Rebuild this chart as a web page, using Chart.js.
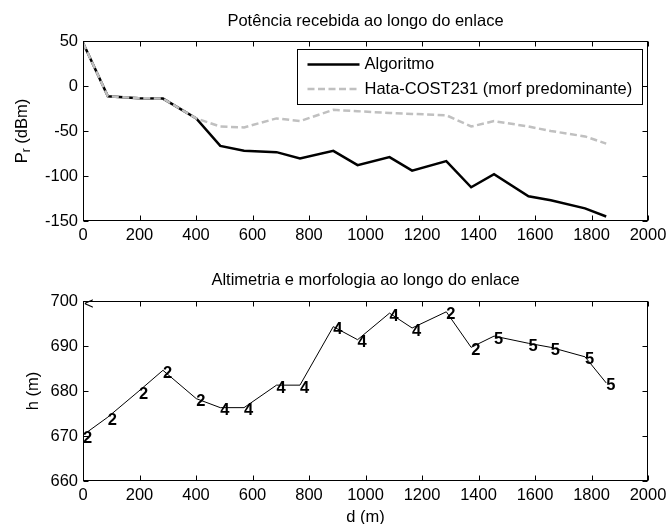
<!DOCTYPE html>
<html>
<head>
<meta charset="utf-8">
<script src="https://cdn.jsdelivr.net/npm/chart.js@4.4.0/dist/chart.umd.min.js"></script>
<style>
  body { margin: 0; background: #fff; }
  canvas { position: absolute; left: 0; }
  #potencia { top: 0; }
  #altimetria { top: 260px; }
</style>
</head>
<body>
<canvas id="potencia" width="667" height="260"></canvas>
<canvas id="altimetria" width="667" height="264"></canvas>
<script>
// distancia ao longo do enlace (m)
const distance = [0, 88, 198, 283, 401, 486, 570, 685, 768, 886, 972, 1085, 1165, 1286, 1374, 1455, 1577, 1656, 1777, 1852];
// potencia recebida (dBm)
const algoritmo = [48, -11.5, -13.5, -14, -36, -66.5, -72, -73.5, -80.5, -72, -88, -79, -94, -83.5, -112.5, -98, -122.5, -127, -136, -145];
const hataCost231 = [48, -11.5, -13.5, -14, -36, -45, -46, -36, -39, -26.5, -28, -30, -31, -32.5, -45, -39, -45, -50, -56, -64];
// altimetria (m) e morfologia de cada ponto
const altitude = [670.2, 674.2, 680, 684.6, 678.3, 676.3, 676.3, 681.3, 681.3, 694.3, 691.4, 697.3, 694, 697.6, 689.7, 692.2, 690.6, 689.7, 687.6, 681.8];
const morfologia = ['2', '2', '2', '2', '2', '4', '4', '4', '4', '4', '4', '4', '4', '2', '2', '5', '5', '5', '5', '5'];
const cornerMark = { d: 0, h: 700, text: '<' };

const distanceTicks = [0, 200, 400, 600, 800, 1000, 1200, 1400, 1600, 1800, 2000];
const powerTicks = [-150, -100, -50, 0, 50];
const heightTicks = [660, 670, 680, 690, 700];

const FONT = '"Liberation Sans", Arial, Helvetica, sans-serif';
const SIZE = 16.5;

Chart.defaults.font.family = FONT;
Chart.defaults.font.size = SIZE;
Chart.defaults.color = '#000';

// caixa do eixo com marcas de escala para dentro (estilo matlab)
const framePlugin = {
  id: 'frame',
  afterDraw(chart) {
    const { ctx, chartArea: a, scales } = chart;
    const L = Math.round(a.left) + 0.5, R = Math.round(a.right) - 0.5;
    const T = Math.round(a.top) + 0.5, B = Math.round(a.bottom) - 0.5;
    ctx.save();
    ctx.strokeStyle = '#000';
    ctx.lineWidth = 1;
    ctx.strokeRect(L, T, R - L, B - T);
    ctx.beginPath();
    scales.x.ticks.forEach(t => {
      const px = Math.round(scales.x.getPixelForValue(t.value)) + 0.5;
      ctx.moveTo(px, B); ctx.lineTo(px, B - 5);
      ctx.moveTo(px, T); ctx.lineTo(px, T + 5);
    });
    scales.y.ticks.forEach(t => {
      const py = Math.round(scales.y.getPixelForValue(t.value)) + 0.5;
      ctx.moveTo(L, py); ctx.lineTo(L + 5, py);
      ctx.moveTo(R, py); ctx.lineTo(R - 5, py);
    });
    ctx.stroke();
    ctx.restore();
  }
};

const boxLegend = {
  id: 'boxLegend',
  afterDraw(chart) {
    const { ctx, chartArea: a } = chart;
    const ds = chart.data.datasets;
    ctx.save();
    ctx.font = SIZE + 'px ' + FONT;
    const textW = Math.max(...ds.map(d => ctx.measureText(d.label).width));
    const sample = 52, padL = 10, gap = 5, padR = 10, rowH = 24.5;
    const w = Math.round(padL + sample + gap + textW + padR);
    const h = 55;
    const right = Math.round(a.right - 6) + 0.5, top = Math.round(a.top + 8) + 0.5;
    const left = right - w;
    ctx.fillStyle = '#fff';
    ctx.fillRect(left, top, w, h);
    ctx.strokeStyle = '#000';
    ctx.lineWidth = 1;
    ctx.strokeRect(left, top, w, h);
    ds.forEach((d, i) => {
      const y = top + 15 + i * rowH;
      ctx.beginPath();
      ctx.strokeStyle = d.borderColor;
      ctx.lineWidth = d.borderWidth;
      ctx.setLineDash(d.borderDash || []);
      ctx.moveTo(left + padL, y);
      ctx.lineTo(left + padL + sample, y);
      ctx.stroke();
      ctx.setLineDash([]);
      ctx.fillStyle = '#000';
      ctx.textBaseline = 'middle';
      ctx.textAlign = 'left';
      ctx.fillText(d.label, left + padL + sample + gap, y);
    });
    ctx.restore();
  }
};

// P com indice r
const powerLabel = {
  id: 'powerLabel',
  afterDraw(chart) {
    const { ctx, chartArea: a } = chart;
    const main = SIZE + 'px ' + FONT, sub = '12px ' + FONT;
    ctx.save();
    ctx.translate(27, (a.top + a.bottom) / 2);
    ctx.rotate(-Math.PI / 2);
    ctx.fillStyle = '#000';
    ctx.textBaseline = 'alphabetic';
    ctx.textAlign = 'left';
    ctx.font = main;
    const wP = ctx.measureText('P').width, wRest = ctx.measureText(' (dBm)').width;
    ctx.font = sub;
    const wr = ctx.measureText('r').width;
    let x = -(wP + wr + wRest) / 2;
    ctx.font = main; ctx.fillText('P', x, 0); x += wP;
    ctx.font = sub; ctx.fillText('r', x, 3); x += wr;
    ctx.font = main; ctx.fillText(' (dBm)', x, 0);
    ctx.restore();
  }
};

const pointLabels = {
  id: 'pointLabels',
  afterDatasetsDraw(chart) {
    const { ctx, scales } = chart;
    ctx.save();
    ctx.fillStyle = '#000';
    ctx.textAlign = 'left';
    ctx.textBaseline = 'middle';
    ctx.font = 'bold ' + SIZE + 'px ' + FONT;
    distance.forEach((d, i) => {
      ctx.fillText(morfologia[i], scales.x.getPixelForValue(d), scales.y.getPixelForValue(altitude[i]) + 3);
    });
    ctx.font = SIZE + 'px ' + FONT;
    ctx.fillText(cornerMark.text, scales.x.getPixelForValue(cornerMark.d) + 1, scales.y.getPixelForValue(cornerMark.h) + 3);
    ctx.restore();
  }
};

function xScale(height, withTitle) {
  return {
    type: 'linear',
    min: 0,
    max: 2000,
    grid: { display: false, drawTicks: false },
    border: { display: false },
    ticks: { padding: 5, maxRotation: 0, minRotation: 0, autoSkip: false, callback: v => String(v) },
    afterBuildTicks: s => { s.ticks = distanceTicks.map(v => ({ value: v })); },
    afterFit: s => { s.height = height; s.paddingLeft = 0; s.paddingRight = 0; },
    title: withTitle
      ? { display: true, text: 'd (m)', padding: { top: 0, bottom: -3 } }
      : { display: false }
  };
}

function yScale(min, max, ticks, title) {
  return {
    type: 'linear',
    min: min,
    max: max,
    grid: { display: false, drawTicks: false },
    border: { display: false },
    ticks: { padding: 5, callback: v => String(v) },
    afterBuildTicks: s => { s.ticks = ticks.map(v => ({ value: v })); },
    afterFit: s => { s.width = 83; },
    title: title
      ? { display: true, text: title, padding: { top: 23.5, bottom: 0 } }
      : { display: false }
  };
}

new Chart(document.getElementById('potencia'), {
  type: 'line',
  data: {
    labels: distance,
    datasets: [
      {
        label: 'Algoritmo',
        data: distance.map((d, i) => ({ x: d, y: algoritmo[i] })),
        borderColor: '#000',
        borderWidth: 2.5,
        pointRadius: 0,
        tension: 0,
        order: 1
      },
      {
        label: 'Hata-COST231 (morf predominante)',
        data: distance.map((d, i) => ({ x: d, y: hataCost231[i] })),
        borderColor: 'rgb(192,192,192)',
        borderWidth: 2.5,
        borderDash: [7, 3.5],
        pointRadius: 0,
        tension: 0,
        order: 0
      }
    ]
  },
  options: {
    responsive: false,
    animation: false,
    devicePixelRatio: 1,
    layout: { padding: { left: 0, right: 19, top: 0, bottom: 0 } },
    plugins: {
      legend: { display: false },
      tooltip: { enabled: false },
      title: {
        display: true,
        fullSize: false,
        text: 'Potência recebida ao longo do enlace',
        font: { size: SIZE, weight: 'normal' },
        padding: { top: 11.1, bottom: 10.1 }
      }
    },
    scales: {
      x: xScale(39, false),
      y: yScale(-150, 50, powerTicks, null)
    }
  },
  plugins: [framePlugin, boxLegend, powerLabel]
});

new Chart(document.getElementById('altimetria'), {
  type: 'line',
  data: {
    labels: distance,
    datasets: [{
      label: 'h',
      data: distance.map((d, i) => ({ x: d, y: altitude[i] })),
      borderColor: '#000',
      borderWidth: 1,
      pointRadius: 0,
      tension: 0
    }]
  },
  options: {
    responsive: false,
    animation: false,
    devicePixelRatio: 1,
    layout: { padding: { left: 0, right: 19, top: 0, bottom: 0 } },
    plugins: {
      legend: { display: false },
      tooltip: { enabled: false },
      title: {
        display: true,
        fullSize: false,
        text: 'Altimetria e morfologia ao longo do enlace',
        font: { size: SIZE, weight: 'normal' },
        padding: { top: 10.1, bottom: 11.1 }
      }
    },
    scales: {
      x: xScale(43, true),
      y: yScale(660, 700, heightTicks, 'h (m)')
    }
  },
  plugins: [framePlugin, pointLabels]
});
</script>
</body>
</html>
